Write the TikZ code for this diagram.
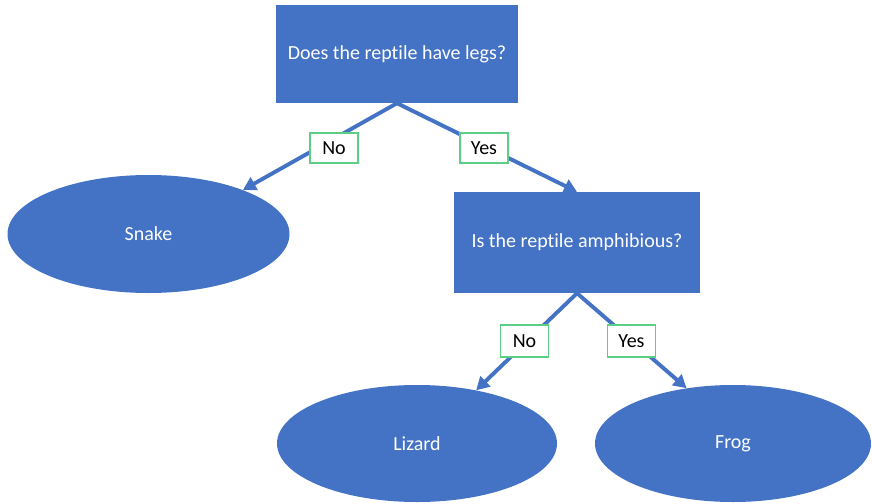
\documentclass[tikz,border=0pt]{standalone}
\usepackage{fontspec}
\setmainfont{Carlito}[RawFeature={-liga;-clig}]
\usetikzlibrary{shapes.geometric,arrows.meta}
\definecolor{boxblue}{HTML}{4472C4}
\definecolor{lblgreen}{HTML}{5CCF87}
\tikzset{
  question/.style={rectangle, fill=boxblue, text=white, minimum width=242pt, minimum height=98pt, inner sep=0pt, font=\fontsize{20}{24}\selectfont},
  leaf/.style={ellipse, fill=boxblue, text=white, minimum width=282pt, minimum height=118pt, inner sep=0pt, font=\fontsize{20}{24}\selectfont},
  branch/.style={draw=boxblue, line width=3.9pt, -{Triangle[length=13pt,width=14pt]}},
  answer/.style={rectangle, draw=lblgreen, line width=1.3pt, fill=white, text=black, minimum width=48pt, minimum height=30pt, inner sep=0pt, font=\fontsize{20}{24}\selectfont}
}
\begin{document}
\begin{tikzpicture}[x=1pt,y=-1pt]
  \useasboundingbox (0,0) rectangle (872,503);
  % decision boxes
  \node[question] (legs) at (397,54) {Does the reptile have legs?};
  \node[question, minimum width=246pt, minimum height=101pt] (amph) at (577,242.5) {Is the reptile amphibious?};
  % outcomes
  \node[leaf] (snake) at (148.5,234) {Snake};
  \node[leaf, minimum width=280pt, minimum height=117pt] (lizard) at (417,443.5) {Lizard};
  \node[leaf, minimum width=276pt, minimum height=117pt] (frog) at (733,443.5) {Frog};
  % branches
  \draw[branch] (legs.south) -- (snake.25);
  \draw[branch] (legs.south) -- (amph.north);
  \draw[branch] (amph.south) -- (lizard.42);
  \draw[branch] (amph.south) -- (frog.130);
  % branch labels
  \node[answer] (no1) at (334,148) {No};
  \node[answer] (yes1) at (484,148) {Yes};
  \node[answer, minimum height=32pt] (no2) at (524.5,341) {No};
  \node[answer, minimum height=32pt] (yes2) at (631.5,341) {Yes};
\end{tikzpicture}
\end{document}
